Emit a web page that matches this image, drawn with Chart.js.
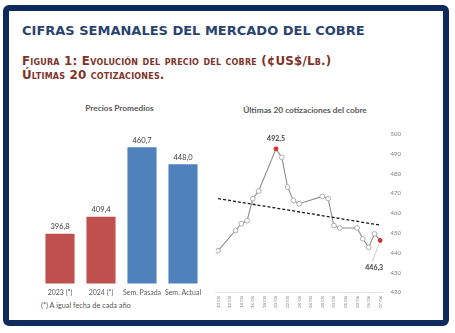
<!DOCTYPE html>
<html>
<head>
<meta charset="utf-8">
<script src="https://cdn.jsdelivr.net/npm/chart.js@4"></script>
<style>
  body { margin:0; width:455px; height:333px; background:#fff; position:relative; overflow:hidden; }
  #frame { position:absolute; left:3px; top:5px; width:434px; height:309px; border:6px solid #0f2a5c; border-radius:6px; }
  .txt { position:absolute; white-space:nowrap; }
  #title { left:22px; top:23px; font:bold 13px "DejaVu Sans"; color:#2a4470; }
  #sub { left:22px; top:54px; font:bold 11.9px/14px "DejaVu Sans"; font-variant:small-caps; letter-spacing:0.2px; color:#7e3429; }
  .ctitle { font:bold 8.3px Lato; color:#595959; transform:translateX(-50%); }
  #barTitle { left:119.5px; top:103px; }
  #lineTitle { left:305px; top:105px; }
  #note { left:41px; top:301px; font:7.3px Lato; color:#595959; }
  canvas { position:absolute; }
</style>
</head>
<body>
<div id="frame"></div>
<div class="txt" id="title">CIFRAS SEMANALES DEL MERCADO DEL COBRE</div>
<div class="txt" id="sub">Figura 1: Evolución del precio del cobre (¢US$/Lb.)<br>Últimas 20 cotizaciones.</div>
<div class="txt ctitle" id="barTitle">Precios Promedios</div>
<div class="txt ctitle" id="lineTitle">Últimas 20 cotizaciones del cobre</div>
<div class="txt" id="note">(*) A igual fecha de cada año</div>
<canvas id="bars" width="190" height="207" style="left:20px;top:98px"></canvas>
<canvas id="line" width="210" height="222" style="left:205px;top:98px"></canvas>
<script>
// Precios promedios
const barLabels = ['2023 (*)', '2024 (*)', 'Sem. Pasada', 'Sem. Actual'];
const barValues = [396.8, 409.4, 460.7, 448.0];

// Últimas 20 cotizaciones (¢US$/lb), año 2024
const quoteDates = ['10/05','13/05','14/05','15/05','16/05','17/05','20/05','21/05','22/05','23/05',
                    '24/05','28/05','29/05','30/05','31/05','03/06','04/06','05/06','06/06','07/06'];
const quotePrices = [441.1, 451.3, 454.7, 456.3, 467.4, 471.2, 492.5, 488.2, 473.2, 466.5,
                     464.8, 468.5, 467.4, 453.8, 452.6, 452.6, 447.1, 442.8, 449.6, 446.3];
const trendDates = ['10/05', '07/06'];
const trendPrices = [467.4, 454.0];
const tickLabels = ['10/05','12/05','14/05','16/05','18/05','20/05','22/05','24/05',
                    '26/05','28/05','30/05','01/06','03/06','05/06','07/06'];
const yTicks = [420, 430, 440, 450, 460, 470, 480, 490, 500];

const fmt = v => v.toFixed(1).replace('.', ',');
const dayOf = s => {
  const [d, m] = s.split('/').map(Number);
  return (Date.UTC(2024, m - 1, d) - Date.UTC(2024, 4, 10)) / 86400000;
};

const barValueLabels = {
  id: 'barValueLabels',
  afterDatasetsDraw(chart) {
    const ctx = chart.ctx;
    ctx.save();
    ctx.font = '7.5px Lato';
    ctx.fillStyle = '#404040';
    ctx.textAlign = 'center';
    ctx.textBaseline = 'middle';
    chart.getDatasetMeta(0).data.forEach((bar, i) => {
      ctx.fillText(fmt(barValues[i]), bar.x, bar.y - 7);
    });
    ctx.restore();
  }
};

new Chart(document.getElementById('bars'), {
  type: 'bar',
  data: {
    labels: barLabels,
    datasets: [{
      data: barValues,
      backgroundColor: ['#c0504d', '#c0504d', '#4f81bd', '#4f81bd'],
      barPercentage: 0.71,
      categoryPercentage: 1
    }]
  },
  options: {
    responsive: false,
    animation: false,
    layout: { padding: { left: 19.5, right: 6.5, top: 23, bottom: 3 } },
    plugins: { legend: { display: false }, tooltip: { enabled: false } },
    scales: {
      y: { display: false, min: 360, max: 480 },
      x: {
        grid: { display: false, drawTicks: false },
        border: { display: false },
        ticks: { autoSkip: false, maxRotation: 0, minRotation: 0,
                 font: { family: 'Lato', size: 7 }, color: '#595959', padding: 5 }
      }
    }
  },
  plugins: [barValueLabels]
});

const lineLabels = {
  id: 'lineLabels',
  afterDatasetsDraw(chart) {
    const ctx = chart.ctx;
    const pts = chart.getDatasetMeta(1).data;
    const top = pts[quotePrices.indexOf(Math.max(...quotePrices))];
    const last = pts[pts.length - 1];
    ctx.save();
    ctx.font = 'bold 7px Lato';
    ctx.fillStyle = '#404040';
    ctx.textAlign = 'center';
    ctx.textBaseline = 'middle';
    ctx.fillText(fmt(Math.max(...quotePrices)), top.x, top.y - 10);
    ctx.fillText(fmt(quotePrices[quotePrices.length - 1]), last.x - 6, last.y + 27);
    ctx.strokeStyle = '#bfbfbf';
    ctx.lineWidth = 0.8;
    ctx.beginPath();
    ctx.moveTo(last.x - 1, last.y + 3);
    ctx.lineTo(last.x - 8, last.y + 21);
    ctx.stroke();
    ctx.restore();
  }
};

const maxIdx = quotePrices.indexOf(Math.max(...quotePrices));
const lastIdx = quotePrices.length - 1;
const isMark = i => i === maxIdx || i === lastIdx;

new Chart(document.getElementById('line'), {
  type: 'line',
  data: {
    datasets: [{
      data: trendDates.map((d, i) => ({ x: dayOf(d), y: trendPrices[i] })),
      borderColor: '#1a1a1a',
      borderWidth: 1.3,
      borderDash: [3, 2],
      pointRadius: 0
    }, {
      data: quoteDates.map((d, i) => ({ x: dayOf(d), y: quotePrices[i] })),
      borderColor: '#8c8c8c',
      borderWidth: 1.1,
      pointRadius: quotePrices.map((v, i) => isMark(i) ? 2 : 2.4),
      pointBackgroundColor: quotePrices.map((v, i) => isMark(i) ? '#d0302c' : '#ffffff'),
      pointBorderColor: quotePrices.map((v, i) => isMark(i) ? '#d0302c' : '#a6a6a6'),
      pointBorderWidth: 0.9
    }]
  },
  options: {
    responsive: false,
    animation: false,
    layout: { padding: { left: 10.8, right: 6, top: 36, bottom: 9 } },
    plugins: { legend: { display: false }, tooltip: { enabled: false } },
    scales: {
      x: {
        type: 'linear',
        min: -0.4,
        max: 28.4,
        afterBuildTicks: scale => { scale.ticks = tickLabels.map(t => ({ value: dayOf(t) })); },
        grid: { display: false, drawTicks: false },
        border: { display: true, color: '#e6e6e6', width: 1 },
        ticks: {
          autoSkip: false,
          minRotation: 90,
          maxRotation: 90,
          padding: 3,
          font: { family: 'Lato', size: 4.5 },
          color: '#7f7f7f',
          callback: (v, i) => tickLabels[i]
        }
      },
      y: {
        position: 'right',
        min: 420,
        max: 500,
        afterBuildTicks: scale => { scale.ticks = yTicks.map(v => ({ value: v })); },
        grid: { display: false, drawTicks: false },
        border: { display: false },
        ticks: { padding: 8, font: { family: 'Lato', size: 6 }, color: '#7f7f7f' }
      }
    }
  },
  plugins: [lineLabels]
});
</script>
</body>
</html>
